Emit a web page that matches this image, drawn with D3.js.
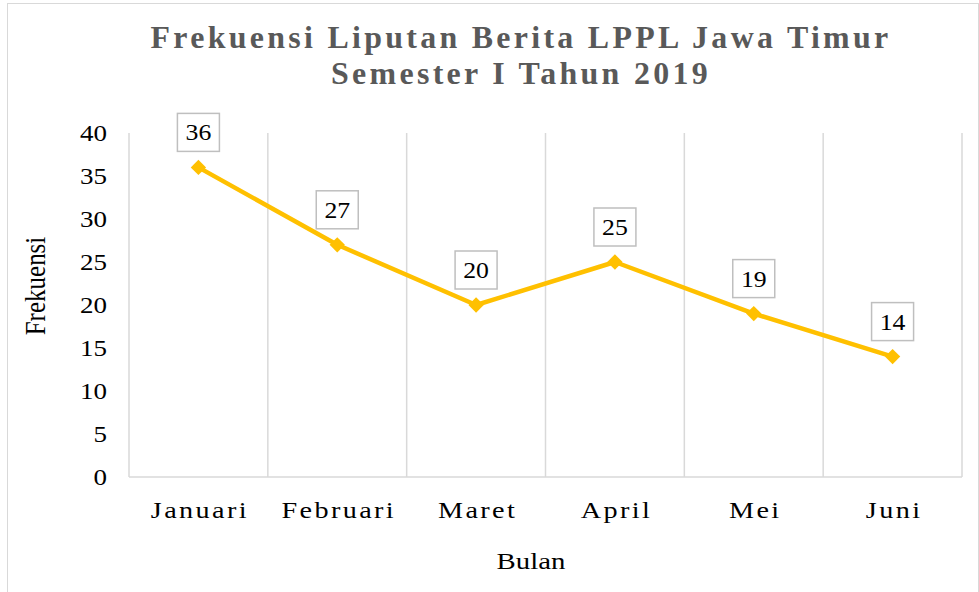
<!DOCTYPE html>
<html><head><meta charset="utf-8">
<script src="https://cdn.jsdelivr.net/npm/d3@7"></script>
<style>body{margin:0;background:#fff}svg{display:block}</style>
</head><body>
<script>
const months = ["Januari","Februari","Maret","April","Mei","Juni"];
const values = [36,27,20,25,19,14];
const yTicks = [0,5,10,15,20,25,30,35,40];
const titleLines = ["Frekuensi Liputan Berita LPPL Jawa Timur","Semester I Tahun 2019"];

const W=979,H=592;
const SERIF="'Liberation Serif','Times New Roman',serif";
const SX=1.2;
const svg=d3.select("body").append("svg").attr("width",W).attr("height",H);
svg.append("rect").attr("x",7.5).attr("y",3.5).attr("width",W-8).attr("height",H).attr("fill","#fff").attr("stroke","#d9d9d9");

const L=129,R=962,T=133,B=477;
const x=d3.scaleBand().domain(months).range([L,R]).padding(0);
const y=d3.scaleLinear().domain([0,40]).range([B,T]);

const bounds=months.map(m=>x(m)).concat([R]);
svg.append("g").selectAll("line").data(bounds).join("line")
 .attr("x1",d=>d).attr("x2",d=>d).attr("y1",T).attr("y2",B)
 .attr("stroke","#d9d9d9").attr("stroke-width",1.5);
svg.append("line").attr("x1",L).attr("x2",R).attr("y1",B).attr("y2",B).attr("stroke","#d9d9d9").attr("stroke-width",1.5);

// y axis
const ya=svg.append("g").attr("transform",`translate(${L},0)`)
 .call(d3.axisLeft(y).tickValues(yTicks).tickSize(0).tickPadding(0));
ya.select(".domain").remove();
ya.selectAll("text").attr("x",0).attr("dy","0.34em")
 .attr("transform",`translate(-22,0) scale(${SX},1)`)
 .attr("font-family",SERIF).attr("font-size",22.5).attr("fill","#000");

// x axis
const xa=svg.append("g").attr("transform",`translate(0,${B})`)
 .call(d3.axisBottom(x).tickSize(0).tickPadding(0));
xa.select(".domain").remove();
xa.selectAll("text").attr("y",0).attr("dy",0)
 .attr("transform",`translate(1.5,41) scale(${SX},1)`)
 .attr("font-family",SERIF).attr("font-size",23.5).attr("fill","#000").attr("letter-spacing","2px");

// line
const cx=d=>x(d.m)+x.bandwidth()/2;
const data=months.map((m,i)=>({m,v:values[i]}));
svg.append("path").datum(data)
 .attr("d",d3.line().x(cx).y(d=>y(d.v)))
 .attr("fill","none").attr("stroke","#FFC000").attr("stroke-width",4.5).attr("stroke-linejoin","round");
svg.append("g").selectAll("path").data(data).join("path")
 .attr("d",d3.symbol().type(d3.symbolDiamond2).size(150))
 .attr("transform",d=>`translate(${cx(d)},${y(d.v)})`).attr("fill","#FFC000");

// labels
const lab=svg.append("g").selectAll("g").data(data).join("g")
 .attr("transform",d=>`translate(${cx(d)},${y(d.v)-35})`);
lab.append("rect").attr("x",-21).attr("y",-19).attr("width",42).attr("height",38)
 .attr("fill","#fff").attr("stroke","#bfbfbf").attr("stroke-width",1.5);
lab.append("text").text(d=>d.v).attr("text-anchor","middle").attr("dy","0.35em")
 .attr("transform",`scale(1.12,1)`)
 .attr("font-family",SERIF).attr("font-size",23).attr("fill","#000");

// titles
svg.append("g").selectAll("text").data(titleLines).join("text")
 .attr("text-anchor","middle")
 .attr("transform",(d,i)=>`translate(521,${48+i*36}) scale(1.03,1)`)
 .attr("font-family",SERIF).attr("font-weight","bold")
 .attr("font-size",31).attr("letter-spacing","3.2px").attr("fill","#595959").text(d=>d);

svg.append("text").attr("text-anchor","middle")
 .attr("transform",`translate(531,569) scale(${SX},1)`)
 .attr("font-family",SERIF).attr("font-size",24).text("Bulan");
svg.append("text").attr("text-anchor","middle")
 .attr("transform",`translate(45,286) scale(${SX},1) rotate(-90)`)
 .attr("font-family",SERIF).attr("font-size",25).text("Frekuensi");
</script>
</body></html>
